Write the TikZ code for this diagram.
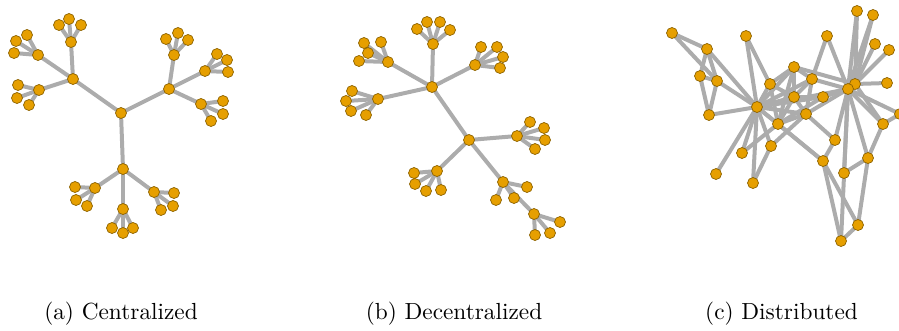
\documentclass[tikz,border=0pt]{standalone}
\usetikzlibrary{backgrounds}
\definecolor{nodeor}{RGB}{230,159,0}
\definecolor{nodebd}{RGB}{140,98,0}
\definecolor{edgegr}{RGB}{172,172,172}
\tikzset{
  v/.style={circle, fill=nodeor, draw=nodebd, line width=0.7pt, minimum size=11pt, inner sep=0pt},
  e/.style={draw=edgegr, line width=4pt},
  captext/.style={anchor=base, inner sep=0pt}
}
\newcommand{\capbig}[1]{\scalebox{2.33}{\normalsize #1}}
\begin{document}
\begin{tikzpicture}[x=1pt,y=-1pt]
\useasboundingbox (0,0) rectangle (899,330);
% ---------- (a) Centralized ----------
\foreach \n/\x/\y in {
 ac/121/113, a1/73/79, a2/169/89, a3/123/169,
 a11/71/42, a11p/59/25, a11q/69/19, a11r/81/25,
 a12/38/55, a12p/16/41, a12q/27/35, a12r/14/53,
 a13/39/90, a13p/18/85, a13q/17/98, a13r/29/105,
 a21/174/55, a21p/166/39, a21q/178/33, a21r/188/40,
 a22/205/71, a22p/217/54, a22q/227/60, a22r/228/72,
 a23/201/104, a23p/223/101, a23q/223/114, a23r/211/121,
 a31/95/188, a31p/75/187, a31q/76/200, a31r/87/206,
 a32/123/209, a32p/112/228, a32q/123/233, a32r/133/228,
 a33/154/192, a33p/174/193, a33q/173/206, a33r/161/210}
  \node[v] (\n) at (\x,\y) {};
\begin{pgfonlayer}{background}
\foreach \a/\b in {ac/a1, ac/a2, ac/a3,
 a1/a11, a1/a12, a1/a13, a2/a21, a2/a22, a2/a23, a3/a31, a3/a32, a3/a33,
 a11/a11p, a11/a11q, a11/a11r, a12/a12p, a12/a12q, a12/a12r, a13/a13p, a13/a13q, a13/a13r,
 a21/a21p, a21/a21q, a21/a21r, a22/a22p, a22/a22q, a22/a22r, a23/a23p, a23/a23q, a23/a23r,
 a31/a31p, a31/a31q, a31/a31r, a32/a32p, a32/a32q, a32/a32r, a33/a33p, a33/a33q, a33/a33r}
  \draw[e] (\a.center) -- (\b.center);
\end{pgfonlayer}
% ---------- (b) Decentralized ----------
\foreach \n/\x/\y in {
 b1/432/87, b2/469/140,
 b11/433/44, b11p/417/29, b11q/427/22, b11r/440/22, b11s/450/30,
 b12/388/62, b12p/364/43, b12q/381/42, b12r/368/53, b12s/359/61,
 b13/378/99, b13p/352/91, b13q/346/101, b13r/351/111, b13s/366/115,
 b14/475/65, b14p/481/47, b14q/497/47, b14r/503/57, b14s/500/68,
 b21/517/136, b21p/530/122, b21q/544/128, b21r/545/140, b21s/535/149,
 b22/437/171, b22p/414/173, b22q/415/184, b22r/426/191, b22s/441/190,
 b23/503/182, b23p/527/187, b23q/514/198, b23r/496/200,
 b24/534/214, b24p/560/222, b24q/550/233, b24r/535/235}
  \node[v] (\n) at (\x,\y) {};
\begin{pgfonlayer}{background}
\foreach \a/\b in {b1/b2, b1/b11, b1/b12, b1/b13, b1/b14, b2/b21, b2/b22, b2/b23, b23/b24,
 b11/b11p, b11/b11q, b11/b11r, b11/b11s, b12/b12p, b12/b12q, b12/b12r, b12/b12s,
 b13/b13p, b13/b13q, b13/b13r, b13/b13s, b14/b14p, b14/b14q, b14/b14r, b14/b14s,
 b21/b21p, b21/b21q, b21/b21r, b21/b21s, b22/b22p, b22/b22q, b22/b22r, b22/b22s,
 b23/b23p, b23/b23q, b23/b23r, b24/b24p, b24/b24q, b24/b24r}
  \draw[e] (\a.center) -- (\b.center);
\end{pgfonlayer}
% ---------- (c) Distributed ----------
\foreach \n/\x/\y in {
 c1/672/33, c2/707/49, c3/700/76, c4/717/81, c5/709/115, c6/746/36,
 c7/757/107, c8/770/84, c9/794/67, c10/812/79, c11/794/97, c12/823/97,
 c13/806/114, c14/778/124, c15/771/146, c16/742/153, c17/716/174, c18/753/183,
 c19/827/36, c20/857/11, c21/873/15, c22/875/44, c23/889/50,
 c24/855/84, c25/848/89, c26/887/83, c27/900/114, c28/883/124,
 c29/835/140, c30/868/158, c31/823/161, c32/844/173, c33/858/225, c34/841/241}
  \node[v] (\n) at (\x,\y) {};
\begin{pgfonlayer}{background}
\foreach \a/\b in {c1/c2, c1/c4, c2/c3, c2/c4, c2/c7, c3/c4, c3/c5, c4/c5, c4/c7, c5/c7,
 c6/c7, c6/c8,
 c7/c8, c7/c9, c7/c10, c7/c11, c7/c12, c7/c13, c7/c14, c7/c15, c7/c16, c7/c17, c7/c18, c7/c25, c7/c31,
 c8/c9, c8/c11, c8/c14, c9/c10, c9/c11, c9/c14, c9/c24, c10/c11, c10/c13, c10/c25,
 c11/c12, c11/c13, c11/c14, c12/c14, c12/c25, c13/c14, c13/c25, c13/c29,
 c14/c16, c14/c31, c15/c18, c15/c13,
 c19/c10, c19/c25,
 c20/c24, c21/c24, c22/c24, c23/c24, c26/c24, c20/c25, c21/c25, c24/c25, c24/c28,
 c25/c27, c25/c28, c25/c29, c25/c30, c25/c32, c25/c34,
 c27/c28, c28/c30, c30/c32, c30/c33, c31/c33, c31/c34, c33/c34, c29/c31}
  \draw[e] (\a.center) -- (\b.center);
\end{pgfonlayer}
% ---------- captions ----------
\node[captext] (capa) at (121,319) {\capbig{(a) Centralized}};
\node[captext] (capb) at (454,319) {\capbig{(b) Decentralized}};
\node[captext] (capc) at (781.5,319) {\capbig{(c) Distributed}};
\end{tikzpicture}
\end{document}
